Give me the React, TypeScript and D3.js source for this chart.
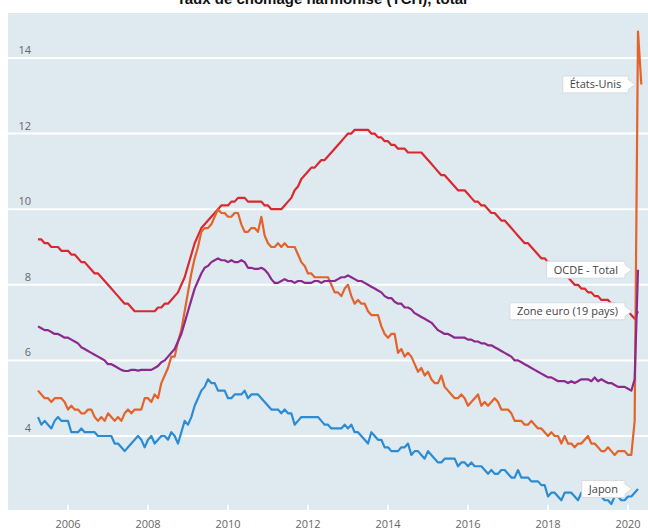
import * as d3 from "d3";

// monthly values, first point = April 2005
const START_YEAR = 2005 + 3 / 12;

const seriesNames = ["Zone euro (19 pays)", "États-Unis", "OCDE - Total", "Japon"];

const euroZone = [
  9.2, 9.2, 9.1, 9.1, 9.0, 9.0, 9.0, 8.9, 8.9,
  8.9, 8.8, 8.8, 8.7, 8.6, 8.6, 8.5, 8.4, 8.3, 8.3, 8.2, 8.1,
  8.0, 7.9, 7.8, 7.7, 7.6, 7.5, 7.5, 7.4, 7.3, 7.3, 7.3, 7.3,
  7.3, 7.3, 7.3, 7.4, 7.4, 7.5, 7.5, 7.6, 7.7, 7.8, 8.0, 8.2,
  8.5, 8.8, 9.1, 9.3, 9.5, 9.6, 9.7, 9.8, 9.9, 10.0, 10.1, 10.1,
  10.1, 10.2, 10.2, 10.3, 10.3, 10.3, 10.2, 10.2, 10.2, 10.2, 10.2, 10.1,
  10.1, 10.0, 10.0, 10.0, 10.0, 10.1, 10.2, 10.3, 10.5, 10.6, 10.8, 10.9,
  11.0, 11.1, 11.1, 11.2, 11.3, 11.3, 11.4, 11.5, 11.6, 11.7, 11.8, 11.9,
  12.0, 12.0, 12.1, 12.1, 12.1, 12.1, 12.1, 12.0, 12.0, 11.9, 11.9, 11.8,
  11.8, 11.7, 11.7, 11.6, 11.6, 11.6, 11.5, 11.5, 11.5, 11.5, 11.5, 11.4,
  11.3, 11.2, 11.1, 11.0, 10.9, 10.9, 10.8, 10.7, 10.6, 10.5, 10.5, 10.5,
  10.4, 10.3, 10.2, 10.2, 10.1, 10.1, 10.0, 9.9, 9.9, 9.8, 9.7, 9.7,
  9.6, 9.5, 9.4, 9.3, 9.2, 9.1, 9.1, 9.0, 8.9, 8.8, 8.7, 8.7,
  8.6, 8.5, 8.4, 8.4, 8.3, 8.3, 8.2, 8.1, 8.0, 8.0, 7.9, 7.9,
  7.8, 7.8, 7.7, 7.7, 7.6, 7.6, 7.6, 7.5, 7.5, 7.4, 7.4, 7.3,
  7.3, 7.2, 7.1, 7.3,
];

const unitedStates = [
  5.2, 5.1, 5.0, 5.0, 4.9, 5.0, 5.0, 5.0, 4.9,
  4.7, 4.8, 4.7, 4.7, 4.6, 4.6, 4.7, 4.7, 4.5, 4.4, 4.5, 4.4,
  4.6, 4.5, 4.4, 4.5, 4.4, 4.6, 4.7, 4.6, 4.7, 4.7, 4.7, 5.0,
  5.0, 4.9, 5.1, 5.0, 5.4, 5.6, 5.8, 6.1, 6.1, 6.5, 6.8, 7.3,
  7.8, 8.3, 8.7, 9.0, 9.4, 9.5, 9.5, 9.6, 9.8, 10.0, 9.9, 9.9,
  9.8, 9.8, 9.9, 9.9, 9.6, 9.4, 9.4, 9.5, 9.5, 9.4, 9.8, 9.3,
  9.1, 9.0, 9.0, 9.1, 9.0, 9.1, 9.0, 9.0, 9.0, 8.8, 8.6, 8.5,
  8.3, 8.3, 8.2, 8.2, 8.2, 8.2, 8.2, 8.0, 7.8, 7.8, 7.7, 7.9,
  8.0, 7.7, 7.5, 7.6, 7.5, 7.5, 7.3, 7.2, 7.2, 7.2, 6.9, 6.7,
  6.6, 6.7, 6.7, 6.2, 6.3, 6.1, 6.2, 6.1, 5.9, 5.7, 5.8, 5.6,
  5.7, 5.5, 5.4, 5.4, 5.6, 5.3, 5.2, 5.1, 5.0, 5.0, 5.1, 5.0,
  4.8, 4.9, 5.0, 5.1, 4.8, 4.9, 4.8, 4.9, 5.0, 4.9, 4.7, 4.7,
  4.7, 4.6, 4.4, 4.4, 4.4, 4.3, 4.3, 4.4, 4.3, 4.2, 4.2, 4.1,
  4.0, 4.1, 4.0, 4.0, 3.8, 4.0, 3.8, 3.8, 3.7, 3.8, 3.8, 3.9,
  4.0, 3.8, 3.8, 3.7, 3.6, 3.6, 3.7, 3.6, 3.5, 3.6, 3.6, 3.6,
  3.5, 3.5, 4.4, 14.7, 13.3,
];

const oecdTotal = [
  6.9, 6.85, 6.8, 6.8, 6.75, 6.7, 6.7, 6.65, 6.6,
  6.6, 6.55, 6.5, 6.45, 6.35, 6.3, 6.25, 6.2, 6.15, 6.1, 6.05, 6.0,
  5.9, 5.9, 5.85, 5.8, 5.75, 5.72, 5.72, 5.75, 5.75, 5.73, 5.75, 5.75,
  5.75, 5.75, 5.8, 5.85, 5.95, 6.0, 6.1, 6.2, 6.3, 6.5, 6.7, 7.0,
  7.3, 7.6, 7.9, 8.1, 8.3, 8.45, 8.5, 8.6, 8.65, 8.7, 8.65, 8.65,
  8.6, 8.65, 8.6, 8.6, 8.65, 8.6, 8.45, 8.45, 8.42, 8.42, 8.45, 8.4,
  8.3, 8.15, 8.05, 8.05, 8.1, 8.15, 8.1, 8.1, 8.05, 8.1, 8.1, 8.05,
  8.05, 8.05, 8.1, 8.1, 8.05, 8.1, 8.1, 8.1, 8.1, 8.15, 8.2, 8.2,
  8.25, 8.2, 8.15, 8.1, 8.1, 8.05, 8.0, 7.95, 7.9, 7.85, 7.8, 7.7,
  7.65, 7.65, 7.55, 7.5, 7.5, 7.4, 7.4, 7.35, 7.25, 7.2, 7.15, 7.1,
  7.05, 7.0, 6.9, 6.8, 6.75, 6.7, 6.7, 6.65, 6.6, 6.6, 6.6, 6.6,
  6.55, 6.55, 6.5, 6.5, 6.45, 6.45, 6.4, 6.4, 6.35, 6.3, 6.25, 6.2,
  6.15, 6.1, 6.0, 6.0, 5.95, 5.9, 5.85, 5.8, 5.75, 5.7, 5.65, 5.6,
  5.55, 5.55, 5.5, 5.45, 5.45, 5.45, 5.4, 5.45, 5.4, 5.45, 5.5, 5.5,
  5.5, 5.45, 5.55, 5.45, 5.5, 5.45, 5.4, 5.4, 5.35, 5.3, 5.3, 5.3,
  5.25, 5.2, 5.5, 8.4,
];

const japan = [
  4.5, 4.3, 4.4, 4.3, 4.2, 4.4, 4.5, 4.4, 4.4,
  4.4, 4.1, 4.1, 4.1, 4.2, 4.1, 4.1, 4.1, 4.1, 4.0, 4.0, 4.0,
  4.0, 4.0, 3.8, 3.8, 3.7, 3.6, 3.7, 3.8, 3.9, 4.0, 3.9, 3.7,
  3.9, 4.0, 3.8, 3.9, 4.0, 4.0, 3.9, 4.1, 4.0, 3.8, 4.1, 4.4,
  4.3, 4.5, 4.8, 5.0, 5.2, 5.3, 5.5, 5.4, 5.4, 5.2, 5.2, 5.2,
  5.0, 5.0, 5.1, 5.1, 5.1, 5.2, 5.0, 5.1, 5.1, 5.1, 5.0, 4.9,
  4.8, 4.7, 4.7, 4.7, 4.6, 4.7, 4.6, 4.6, 4.3, 4.4, 4.5, 4.5,
  4.5, 4.5, 4.5, 4.5, 4.4, 4.3, 4.3, 4.2, 4.2, 4.2, 4.2, 4.3,
  4.2, 4.3, 4.1, 4.1, 4.0, 3.9, 3.8, 4.1, 4.0, 3.9, 3.9, 3.7,
  3.7, 3.6, 3.6, 3.6, 3.7, 3.7, 3.8, 3.5, 3.6, 3.6, 3.5, 3.4,
  3.6, 3.5, 3.4, 3.3, 3.3, 3.4, 3.4, 3.4, 3.4, 3.2, 3.3, 3.3,
  3.2, 3.3, 3.2, 3.2, 3.2, 3.1, 3.0, 3.1, 3.0, 3.0, 3.1, 3.1,
  3.0, 2.9, 2.9, 3.1, 2.9, 2.9, 2.9, 2.8, 2.8, 2.8, 2.7, 2.7,
  2.4, 2.5, 2.5, 2.4, 2.3, 2.5, 2.5, 2.5, 2.4, 2.3, 2.5, 2.4,
  2.4, 2.4, 2.5, 2.5, 2.4, 2.3, 2.3, 2.2, 2.4, 2.4, 2.3, 2.3,
  2.4, 2.4, 2.5, 2.6,
];

const yTicks = [4, 6, 8, 10, 12, 14];
const xTicks = [2006, 2008, 2010, 2012, 2014, 2016, 2018, 2020];

const colors = ["#d7292f", "#e4632b", "#8b2a8c", "#2b8cd3"];
const allSeries = [euroZone, unitedStates, oecdTotal, japan];
// order the lines are painted in
const drawOrder = [0, 1, 2, 3];

const W = 648;
const H = 530;
const plot = { left: 8, right: 648, top: 13, bottom: 510 };

const x = d3.scaleLinear().domain([2006, 2020]).range([68, 628]);
const y = d3.scaleLinear().domain([4, 14]).range([436, 58]);

const line = d3
  .line<number>()
  .x((_, i) => x(START_YEAR + i / 12))
  .y((d) => y(d));

const labelFont = "11px 'Open Sans'";
let measureCtx: CanvasRenderingContext2D | null = null;
function textWidth(s: string) {
  if (!measureCtx) measureCtx = document.createElement("canvas").getContext("2d");
  if (!measureCtx) return s.length * 6;
  measureCtx.font = labelFont;
  return measureCtx.measureText(s).width;
}

function Callout({ name, values }: { name: string; values: number[] }) {
  const last = values.length - 1;
  const tipX = x(START_YEAR + last / 12) - 6;
  const cy = y(values[last]);
  const w = textWidth(name) + 14;
  const h = 17;
  const right = tipX - 7;
  const left = right - w;
  const top = cy - h / 2;
  const path = `M${left},${top}H${right}V${cy - 5}L${tipX},${cy}L${right},${cy + 5}V${top + h}H${left}Z`;
  return (
    <g>
      <path d={path} fill="#ffffff" stroke="#d4dbe0" strokeWidth={1} />
      <text
        x={left + 7}
        y={cy + 4}
        fontFamily="'Open Sans'"
        fontSize={11}
        fill="#444"
      >
        {name}
      </text>
    </g>
  );
}

export default function App() {
  return (
    <svg
      width={W}
      height={H}
      style={{ position: "absolute", left: 0, top: 0, display: "block", background: "#fff" }}
    >
      <text
        x={322}
        y={4}
        textAnchor="middle"
        fontFamily="'Liberation Sans', Arial"
        fontWeight="bold"
        fontSize={15}
        fill="#111"
      >
        Taux de chômage harmonisé (TCH), total
      </text>

      <rect
        x={plot.left}
        y={plot.top}
        width={plot.right - plot.left}
        height={plot.bottom - plot.top}
        fill="#dfe9f0"
      />

      {yTicks.map((t) => (
        <g key={t}>
          <line x1={plot.left} x2={plot.right} y1={y(t)} y2={y(t)} stroke="#fff" strokeWidth={2} />
          <text
            x={31}
            y={y(t) - 4}
            textAnchor="end"
            fontFamily="'Open Sans'"
            fontSize={11}
            fill="#666"
          >
            {t}
          </text>
        </g>
      ))}

      {xTicks.map((t) => (
        <g key={t}>
          <line x1={x(t)} x2={x(t)} y1={plot.bottom - 5} y2={plot.bottom} stroke="#fff" strokeWidth={2} />
          <text
            x={x(t)}
            y={528}
            textAnchor="middle"
            fontFamily="'Open Sans'"
            fontSize={11}
            fill="#666"
          >
            {t}
          </text>
        </g>
      ))}

      {drawOrder.map((k) => (
        <path
          key={seriesNames[k]}
          d={line(allSeries[k]) ?? ""}
          fill="none"
          stroke={colors[k]}
          strokeWidth={2.2}
          strokeLinejoin="round"
        />
      ))}

      {[1, 2, 0, 3].map((k) => (
        <Callout key={seriesNames[k]} name={seriesNames[k]} values={allSeries[k]} />
      ))}
    </svg>
  );
}
